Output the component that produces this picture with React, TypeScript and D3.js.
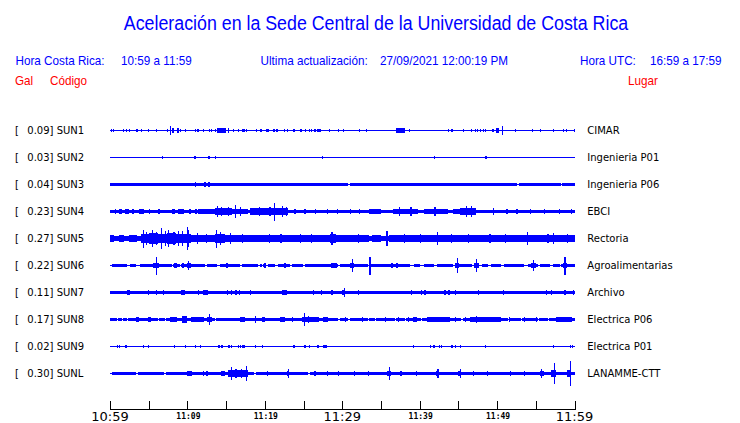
import React from "react";
import * as d3 from "d3";

const stations = ["SUN1", "SUN2", "SUN3", "SUN4", "SUN5", "SUN6", "SUN7", "SUN8", "SUN9", "SUNL"];
const peaks = ["0.09", "0.03", "0.04", "0.23", "0.27", "0.22", "0.11", "0.17", "0.02", "0.30"];
const places = ["CIMAR", "Ingenieria P01", "Ingenieria P06", "EBCI", "Rectoria", "Agroalimentarias", "Archivo", "Electrica P06", "Electrica P01", "LANAMME-CTT"];
// background half-amplitude (Gal) of each trace
const baseAmp = [0.012, 0.012, 0.032, 0.04, 0.066, 0.032, 0.036, 0.036, 0.012, 0.032];
const quietAmp = 0.012;

// events: [minute, amp] spikes or [startMin, endMin, amp] bursts, minutes after 10:59
const evSUN1 = [[0.1, 0.04], [0.4, 0.04], [1.7, 0.04], [2.1, 0.04], [2.4, 0.04], [3.4, 0.035], [4.0, 0.04], [4.9, 0.035], [5.9, 0.04], [7.4, 0.04], [7.7, 0.1], [8.0, 8.3, 0.05], [8.7, 0.05], [9.0, 0.04], [9.7, 0.04], [11.0, 0.035], [11.3, 0.035], [12.0, 0.03], [12.8, 0.04], [13.0, 0.04], [13.6, 0.04], [13.8, 15.0, 0.05], [15.2, 0.07], [15.9, 0.03], [16.5, 0.03], [17.0, 17.4, 0.04], [17.6, 0.04], [18.8, 0.035], [19.4, 19.6, 0.045], [20.2, 0.04], [20.4, 0.04], [21.1, 21.3, 0.045], [21.5, 0.04], [22.5, 0.04], [22.8, 0.04], [23.7, 23.9, 0.045], [24.6, 0.03], [25.2, 0.03], [25.7, 0.04], [26.0, 0.04], [26.4, 0.04], [26.8, 27.2, 0.045], [28.3, 0.03], [29.4, 0.04], [30.1, 0.04], [32.2, 0.04], [33.1, 0.04], [37.0, 38.1, 0.05], [38.6, 0.045], [43.6, 0.03], [44.1, 0.03], [45.6, 0.03], [46.6, 0.04], [47.1, 0.04], [47.4, 0.04], [47.8, 0.04], [48.2, 0.04], [48.4, 0.035], [49.4, 0.03], [49.9, 50.3, 0.05], [50.6, 0.1], [52.3, 52.5, 0.045], [54.5, 0.035], [55.5, 0.04], [57.2, 57.4, 0.045], [58.5, 0.04], [58.9, 0.04], [59.9, 0.045]];
const evSUN2 = [[6.7, 0.03], [10.9, 0.03], [12.7, 12.9, 0.04], [13.5, 0.03], [27.4, 0.025], [41.8, 0.035], [48.5, 48.6, 0.04]];
const evSUN3 = [[11.0, 0.055], [12.2, 0.05], [12.7, 12.9, 0.06]];
const evSUN4 = [[0.6, 0.8, 0.058], [1.2, 1.5, 0.058], [2.0, 2.4, 0.058], [2.8, 3.1, 0.055], [3.8, 4.4, 0.058], [5.0, 5.2, 0.058], [6.2, 6.4, 0.058], [8.0, 8.4, 0.058], [8.8, 9.6, 0.062], [10.2, 10.5, 0.058], [11.0, 11.2, 0.058], [11.4, 12.5, 0.062], [12.5, 13.5, 0.068], [13.5, 15.7, 0.075], [13.8, 0.14], [14.3, 0.11], [15.2, 0.12], [15.7, 17.8, 0.072], [16.1, 0.15], [16.8, 0.11], [18.1, 20.0, 0.075], [20.0, 21.5, 0.085], [21.5, 23.0, 0.09], [19.2, 0.11], [20.6, 0.12], [21.2, 0.22], [22.2, 0.13], [22.7, 0.12], [23.8, 24.0, 0.058], [25.1, 0.06], [26.5, 0.06], [28.0, 0.06], [29.3, 0.06], [31.0, 0.06], [32.2, 0.06], [33.5, 35.0, 0.06], [36.6, 39.8, 0.07], [37.3, 0.11], [38.8, 0.12], [40.6, 43.7, 0.07], [41.9, 0.12], [44.3, 45.2, 0.065], [45.2, 47.3, 0.09], [46.0, 0.14], [46.6, 0.13], [49.5, 0.085], [51.2, 0.06], [52.5, 0.06], [54.2, 0.06], [56.0, 0.06], [58.0, 0.06], [59.5, 0.06]];
const evSUN5 = [[0.0, 0.5, 0.078], [1.2, 1.8, 0.078], [2.5, 3.5, 0.075], [4.0, 5.0, 0.11], [5.0, 6.2, 0.13], [6.2, 7.3, 0.12], [7.3, 8.5, 0.13], [8.5, 9.6, 0.12], [9.6, 10.5, 0.12], [4.2, 0.22], [4.6, 0.17], [5.4, 0.2], [5.9, 0.16], [6.6, 0.25], [7.1, 0.18], [7.5, 0.2], [8.2, 0.17], [8.8, 0.19], [9.3, 0.18], [9.9, 0.27], [10.1, 0.2], [10.5, 13.5, 0.085], [11.2, 0.13], [12.4, 0.12], [13.6, 14.8, 0.1], [13.7, 0.22], [14.2, 0.17], [14.8, 17.8, 0.09], [15.5, 0.13], [17.0, 0.12], [17.8, 28.4, 0.08], [20.5, 0.11], [22.0, 0.1], [24.5, 0.11], [26.0, 0.1], [28.4, 29.2, 0.1], [28.6, 0.15], [29.2, 33.5, 0.08], [32.0, 0.12], [33.8, 35.0, 0.092], [35.7, 0.18], [36.0, 41.5, 0.08], [38.0, 0.1], [40.0, 0.11], [41.5, 46.7, 0.09], [42.2, 0.15], [44.0, 0.12], [46.2, 0.12], [46.7, 60.0, 0.085], [49.0, 0.11], [51.0, 0.12], [53.8, 0.15], [56.5, 0.12], [57.2, 0.13], [59.0, 0.11]];
const evSUN6 = [[5.6, 6.3, 0.07], [8.3, 8.7, 0.055], [9.3, 9.6, 0.055], [10.0, 10.4, 0.07], [15.0, 15.3, 0.055], [19.9, 20.2, 0.06], [22.5, 22.7, 0.05], [28.6, 29.3, 0.07], [31.0, 31.5, 0.065], [36.3, 36.6, 0.06], [36.9, 37.2, 0.055], [44.6, 45.1, 0.065], [47.0, 47.6, 0.065], [54.4, 55.0, 0.065], [58.5, 59.0, 0.07], [5.9, 0.22], [10.1, 0.12], [31.2, 0.15], [33.5, 0.22], [44.8, 0.18], [47.3, 0.16], [54.6, 0.14], [58.7, 0.22]];
const evSUN7 = [[2.2, 2.6, 0.055], [4.9, 0.055], [5.9, 0.055], [6.8, 0.055], [9.2, 9.7, 0.06], [11.4, 0.055], [12.0, 12.7, 0.055], [15.1, 0.055], [15.6, 0.055], [16.2, 0.055], [16.6, 0.055], [18.1, 0.05], [22.2, 22.8, 0.06], [26.2, 0.055], [27.2, 0.055], [28.6, 0.055], [30.0, 30.4, 0.06], [30.2, 0.11], [32.0, 0.05], [38.9, 0.055], [40.2, 0.055], [40.6, 0.055], [43.2, 0.055], [43.7, 0.055], [44.5, 0.05], [47.5, 0.05], [50.8, 0.05], [56.3, 0.05], [57.0, 0.05], [58.7, 0.055], [59.8, 0.055]];
const evSUN8 = [[3.3, 3.7, 0.058], [4.9, 5.3, 0.055], [7.7, 8.6, 0.06], [9.3, 9.9, 0.075], [10.4, 12.2, 0.055], [12.5, 13.2, 0.068], [12.8, 0.13], [16.8, 17.4, 0.058], [18.7, 0.075], [19.6, 20.0, 0.055], [21.9, 22.6, 0.058], [23.5, 0.06], [24.8, 27.0, 0.065], [25.0, 0.17], [25.6, 0.09], [27.5, 28.2, 0.058], [30.3, 0.06], [32.5, 0.06], [35.5, 0.06], [37.2, 0.06], [38.5, 0.055], [39.2, 39.6, 0.06], [41.0, 43.9, 0.06], [44.5, 0.055], [45.8, 0.055], [46.5, 48.8, 0.062], [48.8, 50.5, 0.056], [47.3, 0.085], [51.5, 0.055], [53.5, 0.06], [55.0, 0.055], [57.6, 59.7, 0.06], [59.5, 0.07]];
const evSUN9 = [[0.9, 0.03], [1.1, 0.03], [2.0, 0.025], [4.2, 0.03], [4.9, 0.025], [8.3, 0.025], [9.7, 0.035], [11.0, 0.035], [11.6, 0.025], [14.0, 0.025], [14.4, 0.03], [15.3, 0.03], [15.6, 0.03], [16.5, 0.03], [16.8, 0.03], [17.1, 17.4, 0.04], [18.7, 0.035], [19.6, 0.025], [23.7, 0.025], [25.1, 0.03], [25.7, 0.025], [26.8, 0.025], [27.5, 28.0, 0.03], [39.1, 0.025], [41.3, 0.03], [41.7, 42.0, 0.04], [42.5, 0.03], [42.7, 0.025], [44.1, 0.025], [44.6, 0.03], [45.2, 0.025], [48.4, 48.6, 0.035], [57.2, 0.03], [59.4, 0.03], [59.7, 0.03]];
const evSUNL = [[3.7, 4.0, 0.042], [9.9, 10.6, 0.07], [12.0, 0.05], [12.4, 12.7, 0.05], [14.4, 14.8, 0.05], [15.3, 17.8, 0.085], [15.6, 0.17], [16.2, 0.12], [16.9, 0.11], [17.6, 0.18], [20.3, 0.05], [22.9, 23.1, 0.06], [23.0, 0.1], [26.4, 0.06], [28.0, 0.06], [29.4, 0.06], [31.5, 0.05], [33.3, 0.05], [35.8, 36.3, 0.07], [36.0, 0.15], [37.5, 0.05], [39.5, 0.05], [42.1, 42.5, 0.06], [42.3, 0.11], [45.0, 45.4, 0.06], [45.2, 0.11], [46.9, 0.05], [48.7, 0.05], [51.7, 0.05], [53.5, 0.05], [55.5, 56.0, 0.07], [55.7, 0.12], [57.0, 57.6, 0.09], [57.3, 0.25], [59.0, 59.6, 0.09], [59.4, 0.31]];
const events = [evSUN1, evSUN2, evSUN3, evSUN4, evSUN5, evSUN6, evSUN7, evSUN8, evSUN9, evSUNL];

// stretches where the background band thins to the quiet line
const gapsSUN3 = [[30.8, 30.95], [52.6, 52.8], [58.2, 58.4]];
const gapsSUN6 = [[0, 0.3], [2.15, 2.6], [3.4, 3.9], [8.0, 8.2], [9.0, 9.2], [12.3, 12.5], [13.8, 14.2], [16.8, 17.1], [19.1, 19.4], [19.6, 19.8], [20.2, 20.4], [21.3, 21.7], [23.2, 23.5], [24.9, 25.2], [28.6, 28.8], [29.5, 29.7], [31.0, 31.2], [33.3, 33.5], [38.7, 39.3], [40.1, 40.6], [41.9, 42.2], [44.3, 44.5], [46.7, 47.1], [47.7, 48.0], [48.8, 49.2], [50.5, 50.9], [53.5, 54.0], [55.3, 55.5], [56.8, 57.2], [58.1, 58.3]];
const gapsSUN8 = [[0.86, 1.0], [1.5, 1.65], [2.15, 2.3], [6.2, 6.35], [7.1, 7.25], [13.5, 13.65], [19.6, 19.75], [29.5, 29.65], [30.8, 30.95], [32.5, 32.65], [33.3, 33.45], [34.2, 34.35], [35.5, 35.65], [36.8, 36.95], [38.1, 38.25], [40.2, 40.35], [44.5, 44.65], [45.4, 45.55], [51.4, 51.55], [53.1, 53.25], [55.3, 55.45], [56.6, 56.75]];
const gapsSUNL = [[0, 0.25], [3.35, 3.6], [7.0, 7.2], [18.6, 18.8], [25.6, 25.8]];
const gaps = [[], [], gapsSUN3, [], [], gapsSUN6, [], gapsSUN8, [], gapsSUNL];

const tickMinutes = d3.range(0, 61, 5);
const startTime = new Date(2021, 8, 27, 10, 59);

const BLUE = "#0000ff";
const RED = "#ff0000";

function segmentsWithout(gs: number[][]): number[][] {
  const segs: number[][] = [];
  let cur = 0;
  for (const [a, b] of gs) {
    if (a > cur) segs.push([cur, a]);
    cur = Math.max(cur, b);
  }
  if (cur < 60) segs.push([cur, 60]);
  return segs;
}

export default function App() {
  const x = d3.scaleLinear().domain([0, 60]).range([110, 574.5]);
  const xTime = d3.scaleTime().domain([startTime, d3.timeMinute.offset(startTime, 60)]).range([110, 574.5]);
  const y = d3.scalePoint<string>().domain(stations).range([130.5, 373.5]);
  const amp = d3.scaleLinear().domain([0, 0.33]).range([0, 13.5]);
  const fmt = d3.timeFormat("%H:%M");
  const ticks = tickMinutes.map((m) => d3.timeMinute.offset(startTime, m));
  const axisY = 409.5;

  const headerFont = "'Liberation Sans', Arial, sans-serif";
  const hdr = (tx: number, ty: number, txt: string, color: string, key: string) => (
    <text key={key} transform={`translate(${tx},${ty}) scale(0.9,1)`} fill={color} fontSize={13} fontFamily={headerFont}>
      {txt}
    </text>
  );

  return (
    <svg width={740} height={423} style={{ position: "absolute", left: 0, top: 0, background: "#fff" }}>
      <text transform="translate(376,30.3) scale(0.89,1)" textAnchor="middle" fill={BLUE} fontSize={20} fontFamily={headerFont}>
        Aceleración en la Sede Central de la Universidad de Costa Rica
      </text>
      {hdr(15.5, 65, "Hora Costa Rica:", BLUE, "h1")}
      {hdr(121, 65, "10:59 a 11:59", BLUE, "h2")}
      {hdr(260.5, 65, "Ultima actualización:", BLUE, "h3")}
      {hdr(380, 65, "27/09/2021 12:00:19 PM", BLUE, "h4")}
      {hdr(580, 65, "Hora UTC:", BLUE, "h5")}
      {hdr(650, 65, "16:59 a 17:59", BLUE, "h6")}
      {hdr(15, 85, "Gal", RED, "r1")}
      {hdr(50, 85, "Código", RED, "r2")}
      {hdr(628, 85, "Lugar", RED, "r3")}

      {stations.map((s, i) => {
        const cy = y(s) as number;
        const segs = segmentsWithout(gaps[i]);
        const hb = amp(baseAmp[i]);
        const hq = amp(quietAmp);
        return (
          <g key={s}>
            <text x={15} y={cy + 3.3} fontSize={10} fontFamily="'DejaVu Sans', sans-serif" fill="#000">[</text>
            <text x={27.3} y={cy + 3.3} fontSize={10} fontFamily="'DejaVu Sans', sans-serif" fill="#000">
              {peaks[i]}] {s}
            </text>
            <text x={587.3} y={cy + 3.3} fontSize={10} fontFamily="'DejaVu Sans', sans-serif" fill="#000">
              {places[i]}
            </text>
            <g transform={`translate(0,${cy})`} fill={BLUE} shapeRendering="crispEdges">
              <rect x={x(0)} y={-hq} width={x(60) - x(0)} height={2 * hq} />
              {segs.map(([a, b], k) => (
                <rect key={"s" + k} x={x(a)} y={-hb} width={x(b) - x(a)} height={2 * hb} />
              ))}
              {events[i].map((e, k) => {
                const s0 = e[0];
                const s1 = e.length === 2 ? e[0] : e[1];
                const a = e.length === 2 ? e[1] : e[2];
                const x0 = x(s0);
                const w = Math.max(x(s1) - x0, 1.2);
                const h = amp(a);
                return <rect key={"e" + k} x={x0} y={-h} width={w} height={2 * h} />;
              })}
            </g>
          </g>
        );
      })}

      <g stroke="#000" strokeWidth={1} shapeRendering="crispEdges">
        <line x1={xTime(ticks[0])} x2={xTime(ticks[ticks.length - 1])} y1={axisY} y2={axisY} />
        {ticks.map((t, i) => (
          <line key={i} x1={Math.round(xTime(t)) + 0.5} x2={Math.round(xTime(t)) + 0.5} y1={axisY} y2={axisY - 9} />
        ))}
      </g>
      {ticks.map((t, i) => {
        if (i % 6 === 0)
          return (
            <text key={"l" + i} x={xTime(t)} y={421} textAnchor="middle" fontSize={13} fontFamily="'DejaVu Sans', sans-serif" fill="#000">
              {fmt(t)}
            </text>
          );
        if (i % 2 === 0)
          return (
            <text key={"l" + i} x={xTime(t) + 1} y={418.6} textAnchor="middle" fontSize={8} fontWeight="bold" fontFamily="'DejaVu Sans Mono', monospace" fill="#000">
              {fmt(t)}
            </text>
          );
        return null;
      })}
    </svg>
  );
}
